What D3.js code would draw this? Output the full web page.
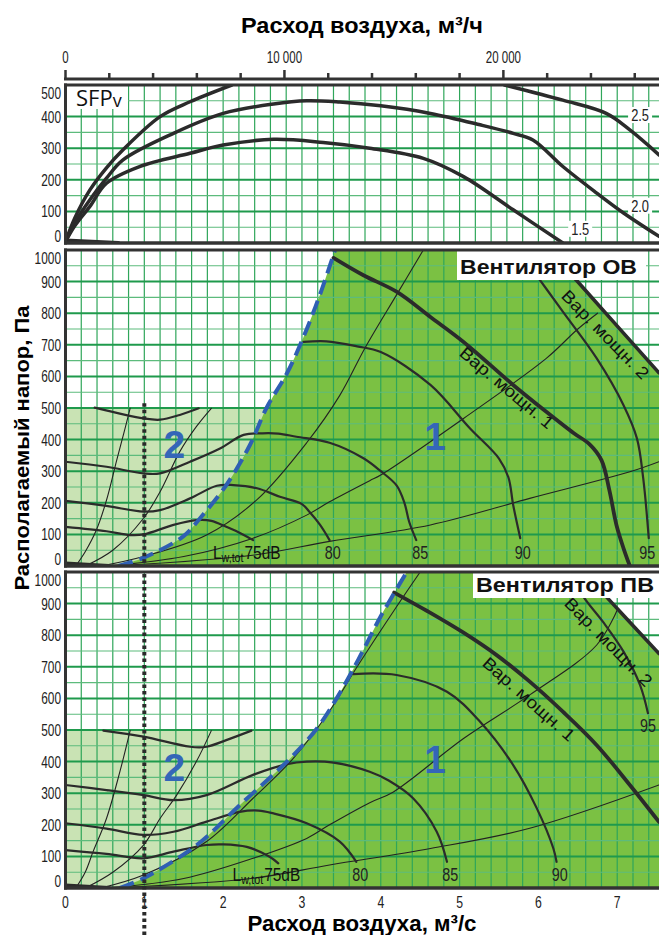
<!DOCTYPE html>
<html><head><meta charset="utf-8">
<script src="https://cdn.jsdelivr.net/npm/d3@7"></script>
<style>body{margin:0;background:#fff}svg{display:block}</style>
</head><body>
<svg id="c" width="659" height="935"></svg>
<script>
// ================= DATA =================
const flowTicks = [0,1,2,3,4,5,6,7];
const flowTickLabels = ["0","1","2","3","4","5","6","7"];
const hourTicks = [0,2000,4000,6000,8000,10000,12000,14000,16000,18000,20000,22000,24000,26000];
const hourLabelValues = [0,10000,20000];
const hourLabels = ["0","10 000","20 000"];
const sfpTicks = [0,100,200,300,400,500];
const pressTicks = [0,100,200,300,400,500,600,700,800,900,1000];

// SFP panel (flow m3/s, pressure Pa)
const sfp25a = [[0,4],[0.12,80],[0.31,168],[0.52,238],[0.73,295],[1.2,400],[1.58,447],[2.11,500]];
const sfp25b = [[5.57,500],[6.31,452],[6.86,410],[7.16,358],[7.53,279]];
const sfp20 = [[0,4],[0.12,65],[0.31,137],[0.52,205],[0.73,263],[1.37,347],[2.0,410],[2.64,440],[3.06,450],[3.48,446],[4.0,434],[4.63,410],[5.26,374],[5.68,347],[5.93,326],[6.31,242],[6.74,158],[7.08,95],[7.53,21]];
const sfp15 = [[0,4],[0.12,55],[0.31,116],[0.52,189],[0.94,242],[1.58,284],[2.0,310],[2.64,328],[3.27,318],[3.86,300],[4.54,268],[5.05,210],[5.68,105],[6.31,0]];
const sfpBase = [[0,8],[0.67,0]];
const sfpLabels = ["2.5","2.0","1.5"];
const sfpLabelFlow = [7.29,7.29,6.53];
const sfpLabelPress = [405,118,45];

// Fan OV
const dashedOV = [[0.67,0],[0.98,25],[1.49,93],[1.71,152],[2.04,256],[2.34,383],[2.55,500],[2.81,610],[3.02,725],[3.23,860],[3.42,1000]];
const var1OV = [[3.40,975],[3.78,920],[4.2,868],[4.63,788],[5.05,709],[5.68,573],[6.1,488],[6.45,420],[6.65,385],[6.8,335],[6.9,240],[6.99,130],[7.08,56],[7.16,0]];
const var2OV = [[6.14,1000],[6.48,905],[7.53,611]];
const fansOV = [
  [[0.37,501],[0.99,467],[1.2,463],[1.45,478],[1.69,499]],
  [[0,330],[0.52,314],[0.99,293],[1.2,293],[1.58,330],[1.96,372],[2.26,415],[2.5,420],[2.7,419],[2.93,409],[3.35,390],[3.78,341],[4.0,300],[4.2,255],[4.3,200],[4.36,140],[4.45,82]],
  [[0,206],[0.52,190],[0.99,172],[1.2,177],[1.58,214],[1.92,254],[2.13,256],[2.43,246],[2.72,219],[3.0,196],[3.1,170],[3.23,130],[3.35,82]],
  [[0,124],[0.52,110],[0.82,98],[0.99,100],[1.37,130],[1.66,145],[1.85,143],[2.04,124],[2.25,100],[2.38,82]],
  [[3.02,709],[3.31,711],[3.7,695],[4.0,677],[4.63,573],[5.13,436],[5.5,340],[5.62,280],[5.68,193],[5.77,88]],
  [[5.75,1000],[6.02,905],[6.31,805],[6.74,657],[7.08,509],[7.25,404],[7.33,277],[7.40,88]]
];
const sysOV = [
  [[0.13,0],[0.25,45],[0.39,113],[0.52,208],[0.65,335],[0.75,430],[0.82,499]],
  [[0.25,0],[0.6,50],[0.99,151],[1.2,235],[1.45,362],[1.66,441],[1.85,499]],
  [[0.45,0],[0.99,30],[1.79,98],[2.43,210],[3.06,390],[3.48,540],[3.8,690],[4.2,858],[4.54,1000]],
  [[0.55,0],[1.5,30],[2.38,88],[3.06,161],[3.35,203],[3.86,270],[4.0,288],[5.05,467],[6.1,657],[6.5,750],[6.75,800]],
  [[0.6,0],[2.4,35],[3.35,78],[4.63,130],[5.89,214],[7.16,298],[7.53,330]]
];
const baseOV = [[0,8],[0.55,0]];

// Fan PV
const dashedPV = [[0.69,0],[0.99,31],[1.66,135],[2.21,262],[2.85,410],[3.19,505],[3.44,600],[3.72,725],[4.0,860],[4.33,1000]];
const var1PV = [[4.17,935],[4.6,875],[5.05,808],[5.47,737],[5.89,653],[6.31,558],[6.74,452],[7.16,326],[7.53,209]];
const var2PV = [[6.57,1000],[6.86,922],[7.53,742]];
const fansPV = [
  [[0.48,498],[0.99,479],[1.58,447],[1.79,447],[2.04,468],[2.36,498]],
  [[0,326],[0.52,310],[0.99,294],[1.37,278],[1.79,294],[2.38,358],[2.81,392],[3.06,400],[3.40,397],[3.86,368],[4.1,340],[4.41,284],[4.71,178],[4.84,83]],
  [[0,205],[0.52,188],[0.99,168],[1.37,178],[1.79,210],[2.21,241],[2.45,245],[2.64,236],[3.06,205],[3.48,147],[3.69,83]],
  [[0,120],[0.52,108],[0.99,94],[1.37,115],[1.79,136],[2.0,138],[2.30,130],[2.59,99],[2.70,78]],
  [[3.65,677],[4.20,674],[4.84,621],[5.26,526],[5.68,389],[5.98,252],[6.19,125],[6.23,83]],
  [[6.4,1000],[6.57,922],[6.82,842],[7.08,748],[7.29,642],[7.39,553]]
];
const sysPV = [
  [[0.13,0],[0.25,50],[0.35,115],[0.52,220],[0.69,368],[0.82,498]],
  [[0.25,0],[0.6,50],[0.99,136],[1.2,220],[1.41,294],[1.66,400],[1.85,498]],
  [[0.45,0],[0.99,41],[1.79,147],[2.38,284],[2.89,410],[3.35,560],[3.7,700],[4.2,890],[4.5,1000]],
  [[0.55,0],[1.5,30],[2.38,94],[3.06,157],[3.35,200],[3.86,270],[4.16,304],[5.05,473],[5.89,611],[6.74,769],[7.0,880]],
  [[0.6,0],[2.38,31],[3.35,73],[4.63,125],[5.89,189],[7.53,326]]
];
const basePV = [[0,8],[0.55,0]];

const soundLabels = ["75dB","80","85","90","95"];
const soundFlowOV = [1.87,3.39,4.50,5.80,7.38];
const soundPressOV = [22,22,22,22,22];
const soundFlowPV = [2.12,3.74,4.88,6.27,7.39];
const soundPressPV = [22,22,22,22,494];

// ================= DRAW =================
const DARK = "#7bc143", LIGHT = "#c9e3b4", GRIDV = "#2fa65a", GRIDMAJ = "#1f9a4c", GRIDMIN = "#5dbb7c";
const BORDER = "#333", BLUE = "#2f5fb3";
const FONT = "'Liberation Sans', Arial, Helvetica, sans-serif";
const svg = d3.select("#c");
const x = d3.scaleLinear().domain([0,7.53]).range([65.5,659]);
const xh = d3.scaleLinear().domain([0,7.53*3600]).range([65.5,659]);

function ntext(g, X, Y, str, size, anchor, sx, weight){
  return g.append("text").attr("transform",`translate(${X},${Y}) scale(${sx},1)`)
    .attr("text-anchor",anchor).attr("font-size",size).attr("font-family",FONT)
    .attr("font-weight",weight||"normal").attr("fill","#222").text(str);
}

// titles
svg.append("text").attr("x",362).attr("y",33).attr("text-anchor","middle")
  .attr("font-family",FONT).attr("font-weight","bold").attr("font-size",22)
  .attr("textLength",242).attr("lengthAdjust","spacingAndGlyphs").text("Расход воздуха, м³/ч");
svg.append("text").attr("x",362).attr("y",931).attr("text-anchor","middle")
  .attr("font-family",FONT).attr("font-weight","bold").attr("font-size",22)
  .attr("textLength",229).attr("lengthAdjust","spacingAndGlyphs").text("Расход воздуха, м³/с");
svg.append("text").attr("transform","translate(29,448) rotate(-90)").attr("text-anchor","middle")
  .attr("font-family",FONT).attr("font-weight","bold").attr("font-size",21)
  .attr("textLength",285).attr("lengthAdjust","spacingAndGlyphs").text("Располагаемый напор, Па");

// top axis
const topAxis = svg.append("g");
topAxis.append("line").attr("x1",64).attr("x2",659).attr("y1",79).attr("y2",79).attr("stroke",BORDER).attr("stroke-width",3);
topAxis.selectAll(".tk").data(hourTicks).join("line")
  .attr("x1",d=>xh(d)).attr("x2",d=>xh(d)).attr("y1",79)
  .attr("y2",d=>hourLabelValues.includes(d)?70:73).attr("stroke",BORDER).attr("stroke-width",2.5);
hourLabelValues.forEach((v,i)=>ntext(topAxis,xh(v),63,hourLabels[i],16,"middle",0.72));

// bottom axis labels
flowTicks.forEach((v,i)=>ntext(svg,x(v),908,flowTickLabels[i],17,"middle",0.72));

let clipN = 0;
function panel(cfg){
  const y = d3.scaleLinear().domain([0,cfg.max]).range([cfg.bottom,cfg.top]);
  const cid = "clip"+(clipN++);
  svg.append("clipPath").attr("id",cid).append("rect")
    .attr("x",x(0)).attr("y",cfg.top).attr("width",x(7.53)-x(0)).attr("height",cfg.bottom-cfg.top);
  const g = svg.append("g");
  const gc = g.append("g").attr("clip-path",`url(#${cid})`);
  const line = d3.line().x(d=>x(d[0])).y(d=>y(d[1])).curve(d3.curveCatmullRom.alpha(0.5));

  if(cfg.dashed){
    const ds = cfg.dashed;
    let xr = ds[ds.length-1][0];
    for(let i=1;i<ds.length;i++){ if(ds[i][1]>=500){ const a=ds[i-1],b=ds[i]; xr=a[0]+(500-a[1])/(b[1]-a[1])*(b[0]-a[0]); break; } }
    gc.append("rect").attr("x",x(0)).attr("y",y(500)).attr("width",x(xr)-x(0)).attr("height",y(0)-y(500)).attr("fill",LIGHT);
    let d = line(ds);
    cfg.var2.forEach(pt=>{ d += `L${x(pt[0])},${y(pt[1])}`; });
    d += `L${x(7.53)+2},${y(cfg.var2[cfg.var2.length-1][1])}L${x(7.53)+2},${y(0)}Z`;
    gc.append("path").attr("d",d).attr("fill",DARK);
  }
  // grid
  const vs = d3.range(1,38).map(i=>i*0.2);
  gc.selectAll(".gv").data(vs).join("line").attr("x1",d=>x(d)).attr("x2",d=>x(d))
    .attr("y1",cfg.top).attr("y2",cfg.bottom).attr("stroke",GRIDV).attr("stroke-width",1.2);
  const hs = d3.range(50,cfg.max,50);
  gc.selectAll(".gh").data(hs).join("line").attr("x1",x(0)).attr("x2",x(7.53))
    .attr("y1",d=>y(d)).attr("y2",d=>y(d))
    .attr("stroke",d=>d%100===0?GRIDMAJ:GRIDMIN).attr("stroke-width",d=>d%100===0?2:1.1);

  const stroke = (pts,w,col)=>gc.append("path").attr("d",line(pts)).attr("fill","none")
      .attr("stroke",col||"#2b2b2b").attr("stroke-width",w).attr("stroke-linecap","round").attr("stroke-linejoin","round");

  if(cfg.sys) cfg.sys.forEach(s=>stroke(s,1.1,"#222"));
  if(cfg.fans) cfg.fans.forEach(s=>stroke(s,2.2));
  if(cfg.var1) stroke(cfg.var1,3.8);
  if(cfg.var2) stroke(cfg.var2,3.6);
  if(cfg.sfp) cfg.sfp.forEach(s=>stroke(s,3.5));
  if(cfg.base) stroke(cfg.base,4);
  if(cfg.dashed){
    gc.append("path").attr("d",line(cfg.dashed)).attr("fill","none").attr("stroke",BLUE)
      .attr("stroke-width",4).attr("stroke-dasharray","15,7");
  }
  cfg.extra && cfg.extra(g, gc, y);

  // borders
  g.append("line").attr("x1",64).attr("x2",659).attr("y1",cfg.top).attr("y2",cfg.top).attr("stroke",BORDER).attr("stroke-width",3);
  g.append("line").attr("x1",64).attr("x2",659).attr("y1",cfg.bottom).attr("y2",cfg.bottom).attr("stroke",BORDER).attr("stroke-width",3.5);
  g.append("line").attr("x1",x(0)).attr("x2",x(0)).attr("y1",cfg.top-1.5).attr("y2",cfg.bottom+1.5).attr("stroke",BORDER).attr("stroke-width",3);
  cfg.ticks.forEach(v=>{
    const yc = Math.max(cfg.top+8, Math.min(cfg.bottom-7, y(v)));
    ntext(g,61,yc+6,String(v),16.5,"end",0.72);
  });
  return y;
}

function regionLabels(g, y, labelTitle, tb, one, two){
  g.append("rect").attr("x",tb[0]).attr("y",tb[1]).attr("width",tb[2]).attr("height",tb[3]).attr("fill","#fff");
  g.append("text").attr("x",tb[0]+3).attr("y",tb[1]+tb[3]-6).attr("font-family",FONT).attr("font-weight","bold")
    .attr("font-size",21).attr("textLength",tb[4]).attr("lengthAdjust","spacingAndGlyphs").attr("fill","#111").text(labelTitle);
  g.append("text").attr("x",x(one[0])).attr("y",y(one[1])+14).attr("text-anchor","middle").attr("font-family",FONT)
    .attr("font-weight","bold").attr("font-size",39).attr("fill","#3466b8").text("1");
  g.append("text").attr("x",x(two[0])).attr("y",y(two[1])+14).attr("text-anchor","middle").attr("font-family",FONT)
    .attr("font-weight","bold").attr("font-size",39).attr("fill","#3466b8").text("2");
}
function soundText(g, y, flows, press){
  soundLabels.forEach((s,i)=>{
    if(i===0){
      const t = g.append("text").attr("transform",`translate(${x(flows[0])},${y(press[0])}) scale(0.86,1)`)
        .attr("font-family",FONT).attr("font-size",18).attr("fill","#111");
      t.append("tspan").text("L");
      t.append("tspan").attr("font-size",12.5).attr("dy",3).text("w,tot");
      t.append("tspan").attr("dy",-3).attr("dx",1).text(s);
    } else {
      ntext(g,x(flows[i]),y(press[i]),s,17.5,"middle",0.82);
    }
  });
}
function varText(g, y, str, fx, fp, ang){
  g.append("text").attr("transform",`translate(${x(fx)},${y(fp)}) rotate(${ang})`).attr("text-anchor","middle")
    .attr("dy",6).attr("font-family",FONT).attr("font-size",17).attr("textLength",117)
    .attr("lengthAdjust","spacingAndGlyphs").attr("fill","#111").text(str);
}
function dotted(parent, y1, y2){
  parent.append("line").attr("x1",x(1)).attr("x2",x(1)).attr("y1",y1).attr("y2",y2)
    .attr("stroke","#2a2a2a").attr("stroke-width",4).attr("stroke-dasharray","3.5,3");
}

// Panel 1 : SFP
panel({top:85,bottom:243,max:500,ticks:sfpTicks,sfp:[sfp25a,sfp25b,sfp20,sfp15],base:sfpBase,
  extra:(g,gc,y)=>{
    g.append("rect").attr("x",66).attr("y",86).attr("width",62).attr("height",23).attr("fill","#fff");
    const t = g.append("text").attr("x",76).attr("y",106).attr("font-family","'Open Sans', "+FONT).attr("font-size",22).attr("fill","#111");
    t.append("tspan").text("SFP");
    t.append("tspan").attr("font-size",18).attr("dy",1).text("v");
    sfpLabels.forEach((s,i)=>{
      const X = x(sfpLabelFlow[i]), Y = y(sfpLabelPress[i]);
      g.append("rect").attr("x",X-12).attr("y",Y-8).attr("width",24).attr("height",16).attr("fill","#fff");
      ntext(g,X,Y+6,s,16.5,"middle",0.78);
    });
  }});

// Panel 2 : Вентилятор ОВ
panel({top:250,bottom:566,max:1000,ticks:pressTicks,dashed:dashedOV,var1:var1OV,var2:var2OV,
  fans:fansOV,sys:sysOV,base:baseOV,
  extra:(g,gc,y)=>{
    dotted(gc, y(515), y(0));
    varText(g,y,"Вар. мощн. 1",5.60,564,40);
    varText(g,y,"Вар. мощн. 2",6.85,733,45.6);
    soundText(g,y,soundFlowOV,soundPressOV);
    regionLabels(g,y,"Вентилятор ОВ",[457,250,189,30,177],[4.69,411],[1.38,386]);
  }});

// Panel 3 : Вентилятор ПВ
panel({top:572,bottom:888,max:1000,ticks:pressTicks,dashed:dashedPV,var1:var1PV,var2:var2PV,
  fans:fansPV,sys:sysPV,base:basePV,
  extra:(g,gc,y)=>{
    varText(g,y,"Вар. мощн. 1",5.88,598,41.6);
    varText(g,y,"Вар. мощн. 2",6.89,779,45.6);
    soundText(g,y,soundFlowPV,soundPressPV);
    regionLabels(g,y,"Вентилятор ПВ",[473,573,186,25,178],[4.69,408],[1.38,383]);
  }});

dotted(svg, 574, 935);
</script>
</body></html>
